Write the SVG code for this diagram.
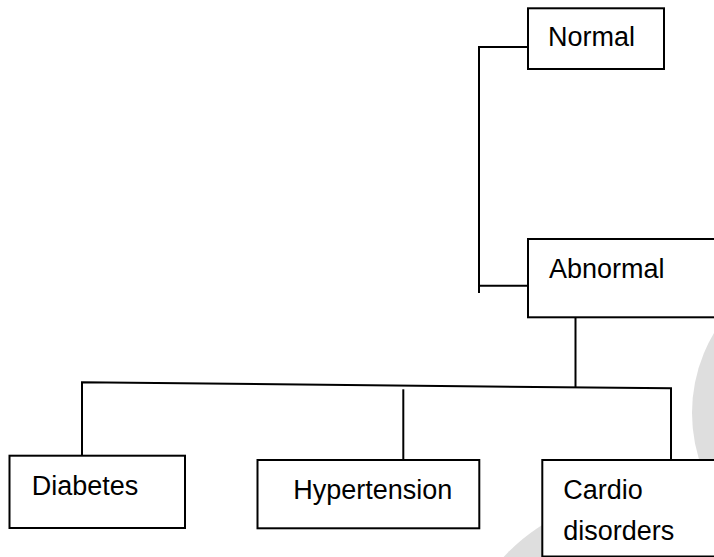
<svg xmlns="http://www.w3.org/2000/svg" width="714" height="557" viewBox="0 0 714 557">
<style>
.box{fill:#fff;stroke:#000;stroke-width:2}
.lbl{font-family:"Liberation Sans",Arial,sans-serif;font-size:27px;fill:#000}
.con{fill:none;stroke:#000;stroke-width:2}
.wm{fill:#dedede}
</style>
<rect x="0" y="0" width="714" height="557" fill="#fff"/>
<g id="watermark">
<circle class="wm" cx="848" cy="413" r="156"/>
<circle class="wm" cx="640" cy="682" r="185"/>
</g>
<g id="connectors">
<polyline class="con" points="528,47 479,47 479,293"/>
<line class="con" x1="479" y1="285.7" x2="528" y2="285.7"/>
<line class="con" x1="575.5" y1="317" x2="575.5" y2="387.5"/>
<polyline class="con" points="82,455.7 82,382.3 671,388.3 671,460"/>
<line class="con" x1="403.3" y1="389.3" x2="403.3" y2="460"/>
</g>
<g id="node-normal">
<rect class="box" x="528" y="8.3" width="136" height="60.7"/>
<text class="lbl" x="548" y="45.7">Normal</text>
</g>
<g id="node-abnormal">
<rect class="box" x="528" y="239" width="200" height="78.3"/>
<text class="lbl" x="549" y="278">Abnormal</text>
</g>
<g id="node-diabetes">
<rect class="box" x="9.5" y="455.7" width="175.5" height="72.3"/>
<text class="lbl" x="31.7" y="495">Diabetes</text>
</g>
<g id="node-hypertension">
<rect class="box" x="257.5" y="460" width="221.8" height="68.3"/>
<text class="lbl" x="293.3" y="499">Hypertension</text>
</g>
<g id="node-cardio">
<rect class="box" x="542.3" y="460" width="190" height="96.5"/>
<text class="lbl" x="563.3" y="499.3">Cardio</text>
<text class="lbl" x="563.3" y="540">disorders</text>
</g>
</svg>
